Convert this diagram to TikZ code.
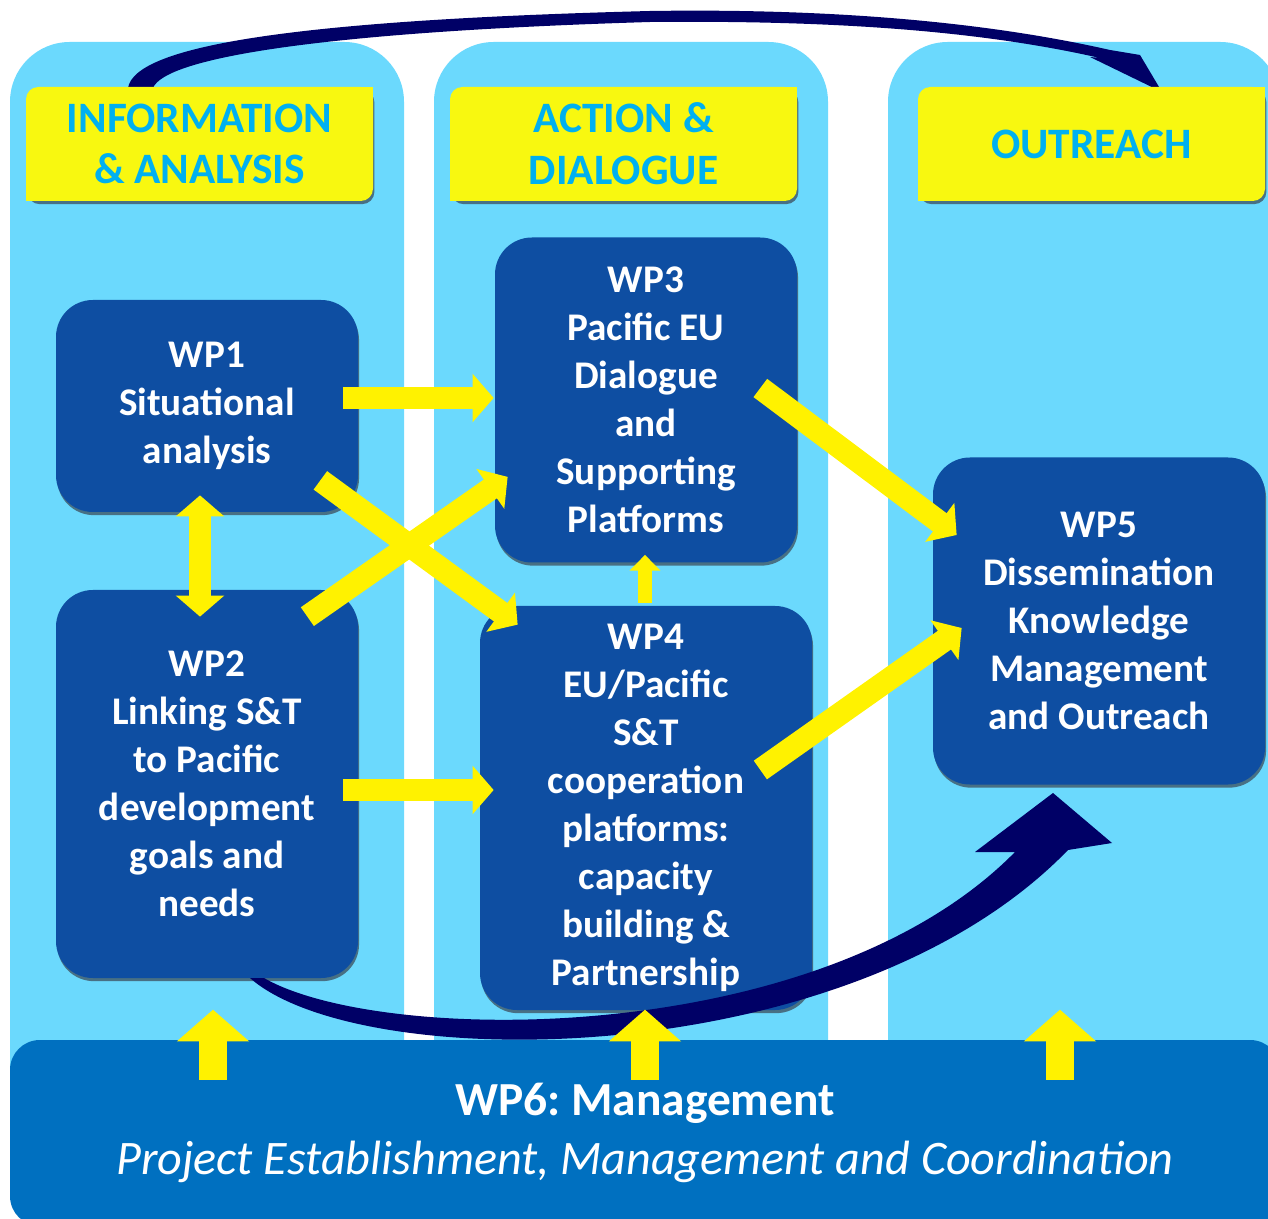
\documentclass[tikz,border=0pt]{standalone}
\usepackage{fontspec}
\setmainfont{Carlito}
\usetikzlibrary{arrows.meta,calc,shadows}

\definecolor{colblue}{RGB}{107,217,253}
\definecolor{wpblue}{RGB}{14,78,162}
\definecolor{mgmtblue}{RGB}{0,112,192}
\definecolor{hdrtext}{RGB}{0,176,240}
\definecolor{hdryellow}{RGB}{248,248,16}
\definecolor{navy}{RGB}{0,0,102}
\definecolor{shadowc}{RGB}{72,112,132}

\tikzset{
	boxsize/.style 2 args={minimum width=#1*0.02cm, minimum height=#2*0.02cm},
	wpbox/.style={fill=wpblue, rounded corners=21pt, text=white, align=center,
		inner sep=0pt, font=\bfseries\fontsize{22.3}{27.3}\selectfont,
		drop shadow={shadow xshift=0.6pt, shadow yshift=-1.8pt, fill=shadowc, opacity=1}},
	hdrbox/.style={fill=hdryellow, text=hdrtext, rounded corners=7pt, align=center,
		inner sep=0pt, font=\bfseries\fontsize{24.7}{29.5}\selectfont,
		drop shadow={shadow xshift=0.8pt, shadow yshift=-1.8pt, fill=shadowc, opacity=1}},
	yarrow/.style={draw=yellow, line width=13pt, -{Triangle[width=27pt,length=12pt]}},
	column/.style={fill=colblue, rounded corners=34pt}
}

\begin{document}
\frenchspacing
\begin{tikzpicture}[x=0.02cm, y=-0.02cm]
	\useasboundingbox (0,0) rectangle (1268,1219);

	% columns
	\fill[column] (10,1150) -- (10,42) -- (404,42) -- (404,1150) -- cycle;
	\fill[column] (434,1150) -- (434,42) -- (828,42) -- (828,1150) -- cycle;
	\fill[column] (888,1150) -- (888,42) -- (1280,42) -- (1280,1150) -- cycle;

	% top curved arrow
	\fill[navy] (128,88) .. controls (135,45) and (300,20) .. (650,11)
		.. controls (850,8) and (1000,25) .. (1110,50)
		-- (1140,55) -- (1162,92) -- (1090,57) -- (1100,58)
		.. controls (990,33) and (850,20) .. (650,22)
		.. controls (320,32) and (165,58) .. (153,88) -- cycle;

	\node[hdrbox, boxsize={347}{114}] (hdr1) at (199.5,144) {INFORMATION\\\& ANALYSIS};
	\node[hdrbox, boxsize={347}{114}] (hdr2) at (623.5,144) {ACTION \&\\DIALOGUE};
	\node[hdrbox, boxsize={347}{114}] (hdr3) at (1091.5,144) {OUTREACH};
	\foreach \h in {hdr1,hdr2,hdr3} {
		\fill[hdryellow] (\h.north east) rectangle ++(-20,20);
		\fill[hdryellow] (\h.south west) rectangle ++(20,-20);
	}

	\node[wpbox, boxsize={302}{212}] (wp1) at (207,406) {WP1\\Situational\\analysis};
	\node[wpbox, boxsize={302}{388}] (wp2) at (207,784)
		{WP2\\Linking S\&T\\to Pacific\\development\\goals and\\needs};
	\node[wpbox, boxsize={302}{325}] (wp3) at (646,400)
		{WP3\\Pacific EU\\Dialogue\\and\\Supporting\\Platforms};
	\node[wpbox, boxsize={332}{404}] (wp4) at (646,808)
		{WP4\\EU/Pacific\\S\&T\\cooperation\\platforms:\\capacity\\building \&\\Partnership};
	\node[wpbox, boxsize={332}{327}] (wp5) at (1099,621)
		{WP5\\Dissemination\\Knowledge\\Management\\and Outreach};

	\node[fill=mgmtblue, rounded corners=17pt, boxsize={1270}{186}, text=white, align=center,
		inner sep=0pt] (wp6) at (645,1133)
		{{\bfseries\fontsize{27}{30}\selectfont WP6: Management}\\[9pt]
		{\itshape\fontsize{27.4}{30}\selectfont Project Establishment, Management and Coordination}};

	% bottom curved arrow
	\fill[navy] (250,978) .. controls (360,1075) and (850,1075) .. (1068,850)
		-- (1112,843) -- (1053,793) -- (975,852) -- (1015,852)
		.. controls (820,1050) and (380,1045) .. (264,978) -- cycle;

	% yellow arrows
	\draw[yarrow] ($(wp1.east)+(-15,-8)$) -- ($(wp3.west)+(-1,-2)$);
	\draw[yarrow] ($(wp2.east)+(-15,6)$) -- ($(wp4.west)+(14,-18)$);
	\draw[yarrow] ($(wp1.south east)+(-38,-32)$) -- ($(wp4.north west)+(38,19)$);
	\draw[yarrow] ($(wp2.north east)+(-51,27)$) -- ($(wp3.south west)+(13,-86)$);
	\draw[yarrow] ($(wp3.east)+(-37,-12)$) -- ($(wp5.west)+(24,-86)$);
	\draw[yarrow] ($(wp4.east)+(-52,-38)$) -- ($(wp5.west)+(29,7)$);
	\draw[yarrow, {Triangle[width=27pt,length=12pt]}-{Triangle[width=27pt,length=12pt]}]
		($(wp1.south)+(-7,-17)$) -- ($(wp2.north)+(-7,27)$);
	\draw[yarrow, line width=8.5pt, -{Triangle[width=17pt,length=9pt]}]
		($(wp4.north)+(-1,-3)$) -- ($(wp3.south)+(-1,-8)$);
	\foreach \dx in {-432,0,415}
		\draw[yarrow, line width=16pt, -{Triangle[width=40pt,length=18pt]}]
			($(wp6.north)+(\dx,40)$) -- ($(wp6.north)+(\dx,-30)$);

\end{tikzpicture}
\end{document}
